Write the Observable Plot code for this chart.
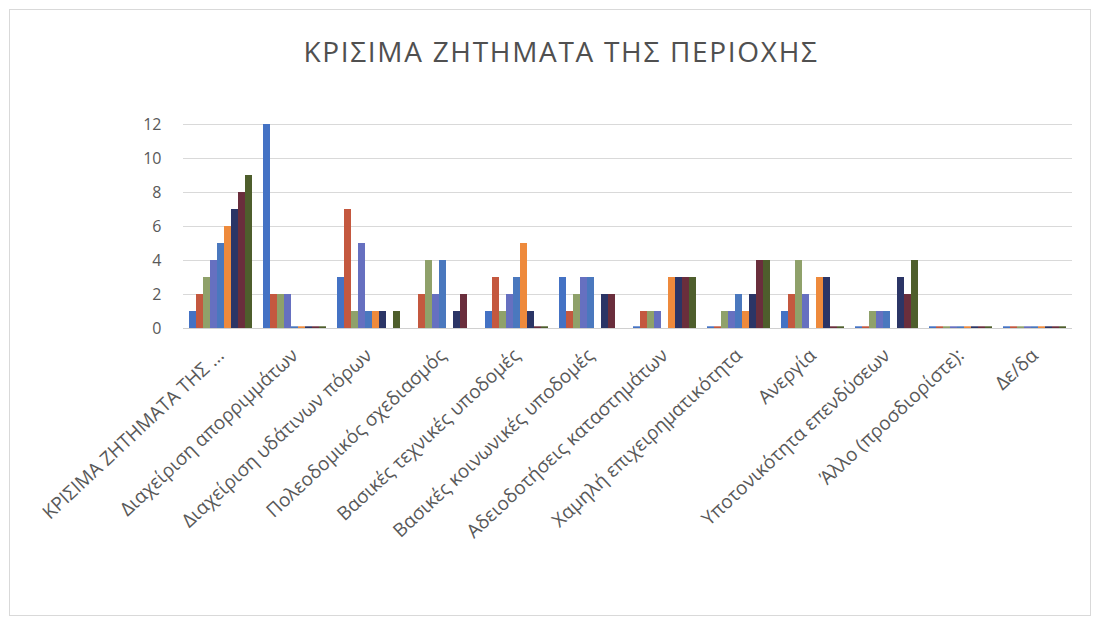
<!DOCTYPE html>
<html>
<head>
<meta charset="utf-8">
<script src="https://cdn.jsdelivr.net/npm/d3@7"></script>
<script src="https://cdn.jsdelivr.net/npm/@observablehq/plot@0.6"></script>
<style>
  html, body { margin: 0; padding: 0; background: #ffffff; }
  #wrap { position: relative; width: 1105px; height: 629px; overflow: hidden; background: #fff; }
  #frame { position: absolute; left: 9px; top: 9px; width: 1082px; height: 607px; border: 1px solid #d9d9d9; box-sizing: border-box; }
  #title { position: absolute; left: 0; top: 32px; width: 1122px; text-align: center;
           font-family: "Open Sans", sans-serif; font-size: 28px; color: #505050; letter-spacing: 1.7px; }
  #chart { position: absolute; left: 0; top: 0; }
</style>
</head>
<body>
<div id="wrap">
  <div id="frame"></div>
  <div id="chart"></div>
  <div id="title">ΚΡΙΣΙΜΑ ΖΗΤΗΜΑΤΑ ΤΗΣ ΠΕΡΙΟΧΗΣ</div>
</div>
<script>
const categories = [
  "ΚΡΙΣΙΜΑ ΖΗΤΗΜΑΤΑ ΤΗΣ ...",
  "Διαχείριση απορριμμάτων",
  "Διαχείριση υδάτινων πόρων",
  "Πολεοδομικός σχεδιασμός",
  "Βασικές τεχνικές υποδομές",
  "Βασικές κοινωνικές υποδομές",
  "Αδειοδοτήσεις καταστημάτων",
  "Χαμηλή επιχειρηματικότητα",
  "Ανεργία",
  "Υποτονικότητα επενδύσεων",
  "Άλλο (προσδιορίστε):",
  "Δε/δα"
];
const seriesNames = ["1", "2", "3", "4", "5", "6", "7", "8", "9"];
const yTicks = [0, 2, 4, 6, 8, 10, 12];

// one array per series, values per category (in category order)
const s1 = [1, 12, 3, 0, 1, 3, 0.1, 0.1, 1, 0.1, 0.1, 0.1];
const s2 = [2, 2, 7, 2, 3, 1, 1, 0.1, 2, 0.1, 0.1, 0.1];
const s3 = [3, 2, 1, 4, 1, 2, 1, 1, 4, 1, 0.1, 0.1];
const s4 = [4, 2, 5, 2, 2, 3, 1, 1, 2, 1, 0.1, 0.1];
const s5 = [5, 0.1, 1, 4, 3, 3, 0, 2, 0, 1, 0.1, 0.1];
const s6 = [6, 0.1, 1, 0, 5, 0, 3, 1, 3, 0, 0.1, 0.1];
const s7 = [7, 0.1, 1, 1, 1, 2, 3, 2, 3, 3, 0.1, 0.1];
const s8 = [8, 0.1, 0, 2, 0.1, 2, 3, 4, 0.1, 2, 0.1, 0.1];
const s9 = [9, 0.1, 1, 0, 0.1, 0, 3, 4, 0.1, 4, 0.1, 0.1];
const seriesValues = [s1, s2, s3, s4, s5, s6, s7, s8, s9];

const palette = ["#4472C4", "#C4583F", "#8FA16A", "#6670C0", "#4A78BE", "#EE8A3C", "#2B3566", "#6A2E3C", "#4E5E2C"];

const data = categories.flatMap((c, i) =>
  seriesNames.map((s, j) => ({category: c, series: s, value: seriesValues[j][i]}))
);

const chart = Plot.plot({
  width: 1105,
  height: 629,
  marginTop: 124,
  marginBottom: 301,
  marginLeft: 180,
  marginRight: 30,
  style: {background: "transparent", fontFamily: "Open Sans, sans-serif", color: "#595959"},
  fx: {domain: categories, paddingInner: 0.1, paddingOuter: 0.06, label: null},
  x: {domain: seriesNames, padding: 0, axis: null},
  y: {domain: [0, 12], label: null},
  color: {domain: seriesNames, range: palette},
  marks: [
    Plot.ruleY(yTicks.slice(1), {stroke: "#d9d9d9", strokeWidth: 1, insetLeft: -4, insetRight: -4}),
    Plot.ruleY([0], {stroke: "#d0d0d0", strokeWidth: 1, insetLeft: -4, insetRight: -4}),
    Plot.barY(data, {fx: "category", x: "series", y: "value", fill: "series", inset: 0}),
    Plot.axisY({ticks: yTicks, tickSize: 0, tickPadding: 26, fontSize: 16, label: null, fill: "#595959"}),
    Plot.axisFx({anchor: "bottom", tickRotate: -43, tickSize: 0, tickPadding: 24, fontSize: 19, label: null, fill: "#595959"})
  ]
});
document.getElementById("chart").appendChild(chart);
</script>
</body>
</html>
